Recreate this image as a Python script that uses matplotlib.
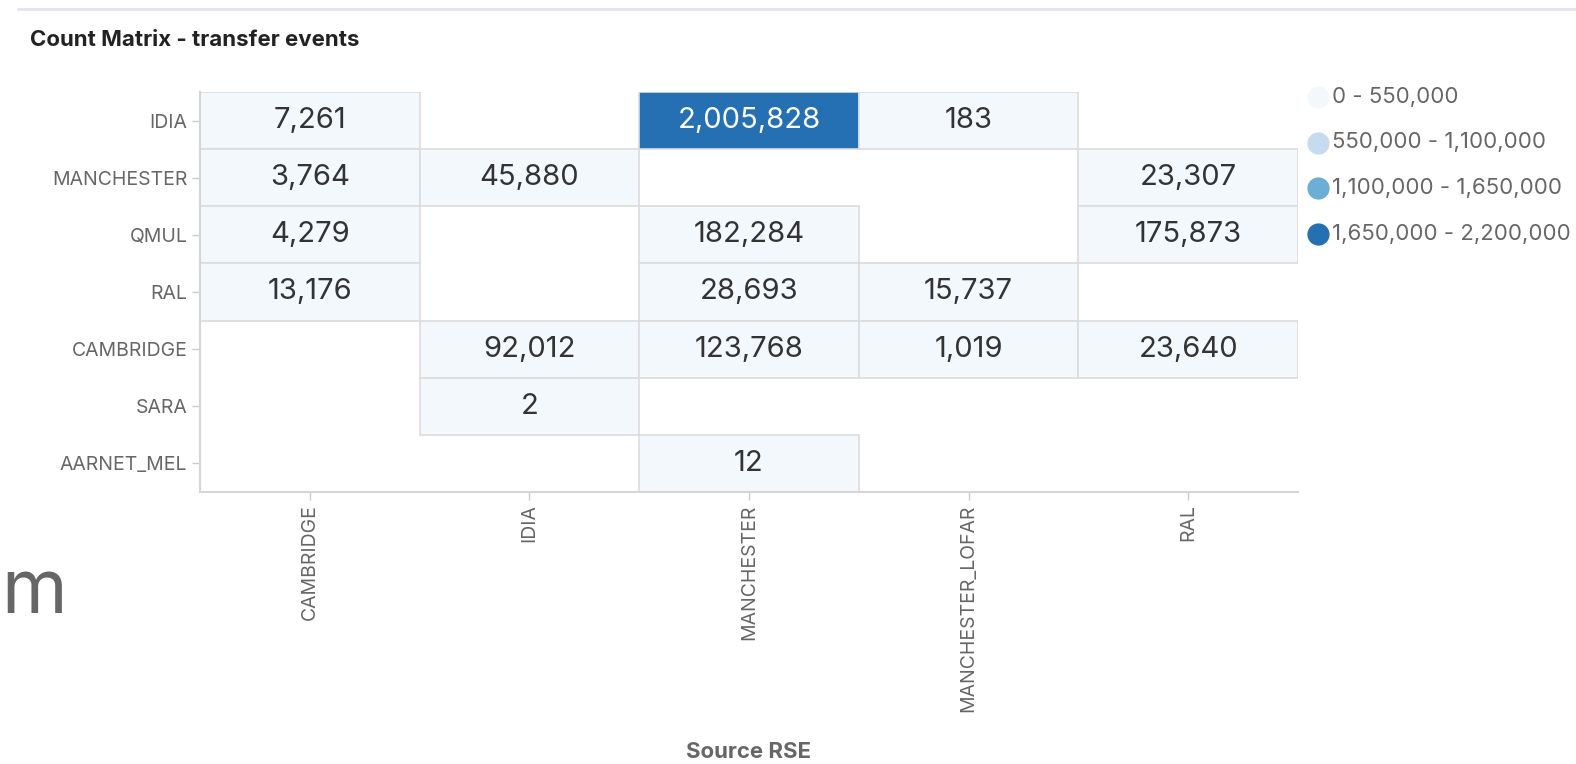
import numpy as np
import matplotlib
matplotlib.use('Agg')
import matplotlib.pyplot as plt
from matplotlib.colors import ListedColormap, BoundaryNorm
from matplotlib.lines import Line2D
from matplotlib.patches import Rectangle

plt.rcParams['font.family'] = ['Inter', 'DejaVu Sans']

# data
dest_rse = ['IDIA', 'MANCHESTER', 'QMUL', 'RAL', 'CAMBRIDGE', 'SARA', 'AARNET_MEL']
source_rse = ['CAMBRIDGE', 'IDIA', 'MANCHESTER', 'MANCHESTER_LOFAR', 'RAL']
counts = [
    [7261, None, 2005828, 183, None],
    [3764, 45880, None, None, 23307],
    [4279, None, 182284, None, 175873],
    [13176, None, 28693, 15737, None],
    [None, 92012, 123768, 1019, 23640],
    [None, 2, None, None, None],
    [None, None, 12, None, None],
]
bins = [0, 550000, 1100000, 1650000, 2200000]
bin_colors = ['#f3f8fd', '#c6dbef', '#6baed6', '#2470b3']

fig = plt.figure(figsize=(15.76, 7.64), dpi=100)
ax = fig.add_axes([200 / 1576, 1 - 492 / 764, 1098 / 1576, 400 / 764])

cmap = ListedColormap(bin_colors)
norm = BoundaryNorm(bins, cmap.N)

# only cells with a value get a fill and a border
for i, row in enumerate(counts):
    for j, v in enumerate(row):
        if v is None:
            continue
        ax.add_patch(Rectangle((j, i), 1, 1, facecolor=cmap(norm(v)),
                               edgecolor='#dcdcdc', linewidth=1.2))
        c = 'white' if v >= bins[3] else '#333333'
        ax.text(j + 0.5, i + 0.5, f'{v:,}', ha='center', va='center', fontsize=21, color=c)

ax.set_xlim(0, len(source_rse))
ax.set_ylim(len(dest_rse), 0)
ax.set_xticks(np.arange(len(source_rse)) + 0.5)
ax.set_xticklabels(source_rse, rotation=90, fontsize=14, color='#666666')
ax.set_yticks(np.arange(len(dest_rse)) + 0.5)
ax.set_yticklabels(dest_rse, fontsize=14, color='#666666')
ax.tick_params(length=6, color='#cccccc', width=1, pad=3)
for s in ['top', 'right']:
    ax.spines[s].set_visible(False)
for s in ['left', 'bottom']:
    ax.spines[s].set_color('#d5d5d5')
    ax.spines[s].set_linewidth(1.5)
ax.set_xlabel('Source RSE', fontsize=16, fontweight='bold', color='#666666', labelpad=22)

# title and page elements
fig.text(30 / 1576, 1 - 40 / 764, 'Count Matrix - transfer events', fontsize=16,
         fontweight='bold', color='#222222', va='center')
fig.add_artist(Line2D([18 / 1576, 1], [1 - 9 / 764] * 2, color='#e4e4ee', lw=2))
fig.text(0.001, 1 - 613 / 764, 'm', fontsize=54, color='#666666', va='baseline')

# legend
for k in range(len(bin_colors)):
    y = 1 - (97 + k * 45.5) / 764
    fig.add_artist(Line2D([1318 / 1576], [y], marker='o', markersize=15,
                          color=bin_colors[k], lw=0))
    fig.text(1332 / 1576, y, f'{bins[k]:,} - {bins[k + 1]:,}', fontsize=16,
             color='#666666', va='center')

plt.savefig('out.png', dpi=100)
